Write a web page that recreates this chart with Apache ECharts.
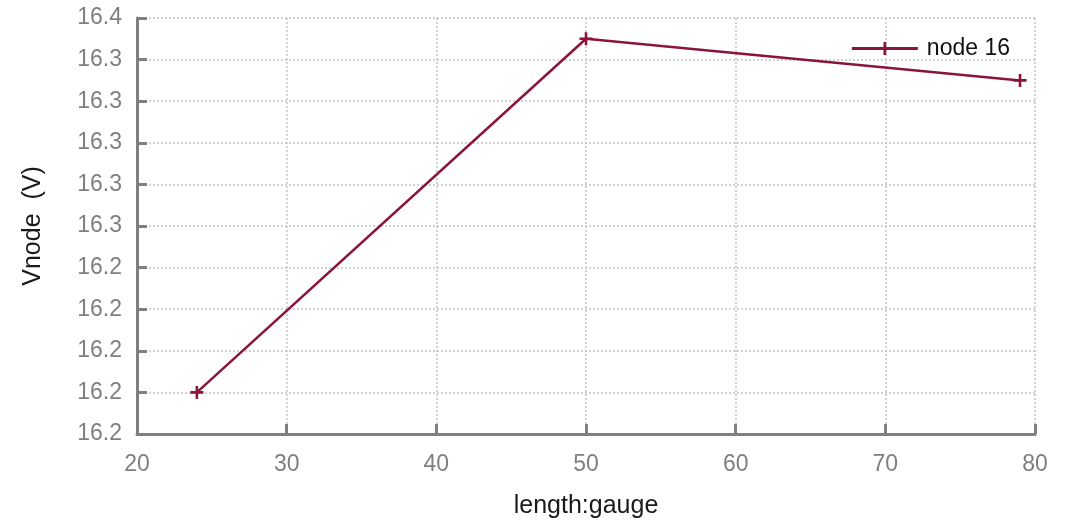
<!DOCTYPE html>
<html>
<head>
<meta charset="utf-8">
<script src="https://cdn.jsdelivr.net/npm/echarts@6/dist/echarts.min.js"></script>
<style>
  html, body { margin: 0; padding: 0; background: #fff; }
  #chart { width: 1076px; height: 520px; }
</style>
</head>
<body>
<div id="chart"></div>
<script>
var seriesName = 'node 16';
var lengthValues = [24, 50, 79];
var vnodeValues = [16.22, 16.39, 16.37];

var lineColor = '#8a1538';
var plusPath = 'path://M4,0H6V4H10V6H6V10H4V6H0V4H4Z';

var points = lengthValues.map(function (x, i) {
    return [x, vnodeValues[i]];
});

// the source truncates the tick values to one decimal
var truncLabel = function (v) {
    return (Math.floor(v * 10 + 1e-6) / 10).toFixed(1);
};

var font = 'Arial, Liberation Sans';

var chart = echarts.init(document.getElementById('chart'));
chart.setOption({
    animation: false,
    grid: { left: 137, right: 41, top: 18, bottom: 86, outerBoundsMode: 'none', containLabel: false },
    legend: {
        right: 61,
        top: 32,
        itemWidth: 66,
        itemHeight: 13,
        itemGap: 10,
        textStyle: { fontFamily: font, fontSize: 23, color: '#111', padding: [0, 0, 0, 4] },
        data: [{ name: seriesName, icon: 'path://M0,5.1H66V7.9H0Z M31.6,0H34.4V13H31.6Z' }]
    },
    xAxis: {
        type: 'value',
        min: 20,
        max: 80,
        interval: 10,
        name: 'length:gauge',
        nameLocation: 'middle',
        nameGap: 60,
        nameTextStyle: { fontFamily: font, fontSize: 25, color: '#1a1a1a' },
        axisLine: { show: true, lineStyle: { color: '#808080', width: 3 } },
        axisTick: { show: true, inside: true, length: 10, lineStyle: { color: '#808080', width: 3 } },
        axisLabel: { margin: 19, fontFamily: font, fontSize: 23, color: '#7f7f7f' },
        splitLine: { show: true, lineStyle: { color: '#c4c4c4', type: [2, 2], width: 1.5 } }
    },
    yAxis: {
        type: 'value',
        min: 16.2,
        max: 16.4,
        interval: 0.02,
        name: 'Vnode  (V)',
        nameLocation: 'middle',
        nameGap: 91,
        nameTextStyle: { fontFamily: font, fontSize: 25, color: '#1a1a1a' },
        axisLine: { show: true, lineStyle: { color: '#808080', width: 3 } },
        axisTick: { show: true, inside: true, length: 10, lineStyle: { color: '#808080', width: 3 } },
        axisLabel: { margin: 15, fontFamily: font, fontSize: 23, color: '#7f7f7f', formatter: truncLabel },
        splitLine: { show: true, lineStyle: { color: '#c4c4c4', type: [2, 2], width: 1.5 } }
    },
    series: [{
        name: seriesName,
        type: 'line',
        data: points,
        symbol: plusPath,
        symbolSize: 13,
        showAllSymbol: true,
        itemStyle: { color: lineColor },
        lineStyle: { color: lineColor, width: 2.5 }
    }]
});
</script>
</body>
</html>
